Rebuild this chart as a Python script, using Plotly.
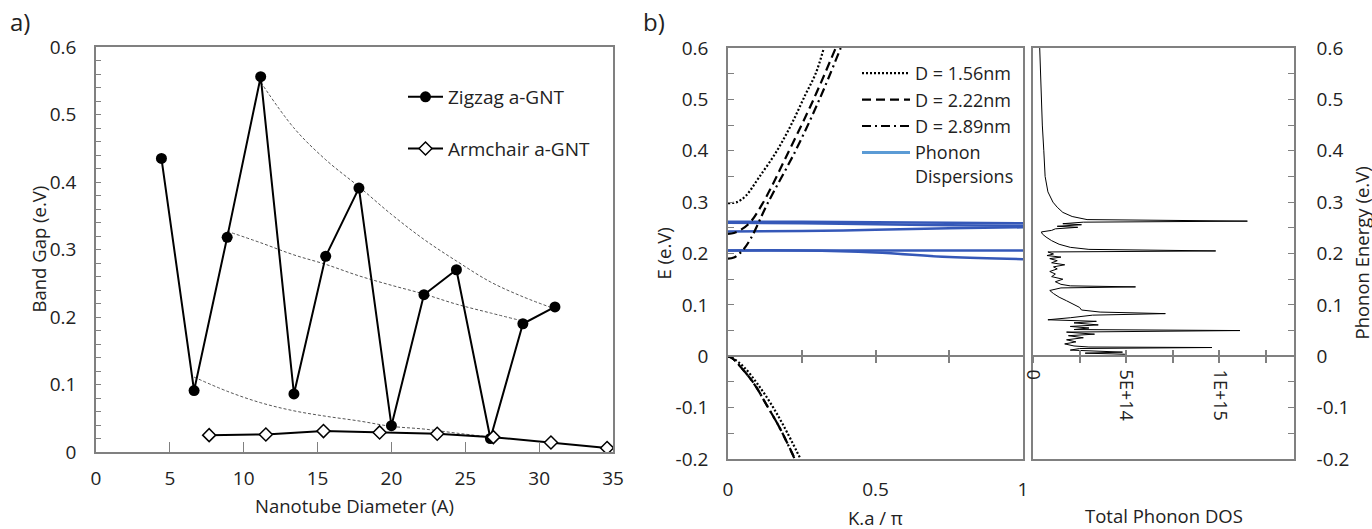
import plotly.graph_objects as go

# ---------------- Panel a data ----------------
zig_x = [4.43, 6.64, 8.88, 11.15, 13.4, 15.55, 17.8, 20.0, 22.2, 24.4, 26.7, 28.9, 31.07]
zig_y = [0.435, 0.091, 0.318, 0.556, 0.086, 0.290, 0.391, 0.039, 0.233, 0.270, 0.020, 0.190, 0.215]
arm_x = [7.66, 11.5, 15.4, 19.2, 23.1, 26.9, 30.8, 34.6]
arm_y = [0.025, 0.026, 0.031, 0.029, 0.027, 0.022, 0.014, 0.006]

guide_up_x = [11.15, 13.4, 15.55, 17.8, 20.0, 22.2, 24.4, 26.7, 28.9, 31.07]
guide_up_y = [0.548, 0.48, 0.433, 0.393, 0.352, 0.315, 0.283, 0.252, 0.23, 0.212]
guide_mid_x = [8.88, 11.15, 13.4, 15.55, 17.8, 20.0, 22.2, 24.4, 26.7, 28.9]
guide_mid_y = [0.327, 0.31, 0.292, 0.278, 0.261, 0.247, 0.234, 0.219, 0.206, 0.194]
guide_low_x = [6.64, 8.88, 11.15, 13.4, 15.55, 17.8, 20.0, 22.2, 24.4, 26.7]
guide_low_y = [0.111, 0.09, 0.073, 0.061, 0.053, 0.046, 0.038, 0.034, 0.028, 0.022]

# ---------------- Panel b (left) data ----------------
k_c156 = [0, 0.03, 0.06, 0.105, 0.166, 0.218, 0.263, 0.297, 0.325]
e_c156 = [0.298, 0.300, 0.312, 0.348, 0.40, 0.455, 0.51, 0.55, 0.60]
k_c222 = [0, 0.02, 0.04, 0.071, 0.116, 0.207, 0.29, 0.365]
e_c222 = [0.238, 0.240, 0.245, 0.258, 0.296, 0.40, 0.50, 0.60]
k_c289 = [0, 0.02, 0.048, 0.077, 0.133, 0.229, 0.31, 0.382]
e_c289 = [0.19, 0.192, 0.205, 0.229, 0.296, 0.40, 0.50, 0.60]

k_v156 = [0, 0.017, 0.054, 0.099, 0.145, 0.19, 0.246]
e_v156 = [0, -0.004, -0.021, -0.053, -0.092, -0.137, -0.20]
k_v222 = [0, 0.015, 0.043, 0.088, 0.128, 0.173, 0.223]
e_v222 = [0, -0.004, -0.021, -0.053, -0.092, -0.137, -0.195]
k_v289 = [0, 0.015, 0.045, 0.09, 0.131, 0.176, 0.226]
e_v289 = [0, -0.004, -0.022, -0.055, -0.095, -0.14, -0.2]

k_ph = [0, 0.25, 0.5, 0.75, 1.0]
ph_bands = [
    [0.262, 0.262, 0.261, 0.260, 0.259],
    [0.260, 0.259, 0.257, 0.255, 0.254],
    [0.243, 0.244, 0.246, 0.249, 0.251],
    [0.206, 0.206, 0.206, 0.206, 0.206],
    [0.206, 0.206, 0.202, 0.193, 0.189],
]

# ---------------- Panel b (right) data: phonon DOS ----------------
dos_energy = [0.600, 0.55, 0.50, 0.45, 0.40, 0.35, 0.32, 0.30, 0.29, 0.28, 0.272, 0.266,
              0.263, 0.261, 0.258, 0.256, 0.253, 0.251, 0.248, 0.245, 0.242, 0.238, 0.232,
              0.225, 0.218, 0.212, 0.208, 0.205, 0.203, 0.199, 0.196, 0.193, 0.190, 0.186,
              0.182, 0.178, 0.174, 0.170, 0.165, 0.160, 0.155, 0.150, 0.145, 0.140, 0.137,
              0.135, 0.133, 0.128, 0.122, 0.115, 0.108, 0.100, 0.095, 0.090, 0.086, 0.083,
              0.080, 0.075, 0.071, 0.068, 0.065, 0.061, 0.058, 0.055, 0.052, 0.050, 0.047,
              0.043, 0.040, 0.036, 0.032, 0.028, 0.024, 0.020, 0.018, 0.017, 0.015, 0.012,
              0.010, 0.008, 0.006, 0.004, 0.002, 0.0]
dos_1e14 = [0.36, 0.40, 0.45, 0.50, 0.58, 0.65, 0.80, 1.07, 1.3, 1.6, 2.1, 2.9,
            11.5, 2.7, 1.6, 2.6, 1.3, 2.4, 1.2, 1.0, 0.45, 0.5, 0.7,
            1.0, 1.4, 2.0, 3.0, 9.8, 0.8, 1.1, 0.75, 1.5, 0.9, 1.3,
            1.0, 1.7, 1.1, 1.3, 0.9, 1.2, 1.0, 1.6, 1.2, 1.5, 2.0,
            5.5, 1.5, 0.9, 1.1, 1.4, 1.8, 2.2, 2.5, 2.6, 3.6, 7.1,
            3.2, 2.0, 0.8, 3.4, 2.2, 3.5, 2.0, 3.0, 2.2, 11.1, 1.8,
            3.3, 1.9, 2.7, 1.8, 2.3, 1.7, 2.2, 3.0, 9.6, 2.5, 2.0,
            4.2, 4.8, 2.8, 4.9, 5.0, 2.4]
dos_vals = [v * 1e14 for v in dos_1e14]

dos_tickvals = [0, 2.5e14, 5e14, 7.5e14, 1e15, 1.25e15]
dos_ticktext = ["0", "", "5E+14", "", "1E+15", ""]

e_tickvals = [-0.2, -0.1, 0, 0.1, 0.2, 0.3, 0.4, 0.5, 0.6]
e_ticktext = ["-0.2", "-0.1", "0", "0.1", "0.2", "0.3", "0.4", "0.5", "0.6"]

# ---------------- Layout geometry ----------------
W, H = 1372, 529
FONT = "Open Sans"
TXT = "#222222"
AX = "#808080"

def fx(px):
    return px / W

def fy(py):
    return 1 - py / H

a_dom_x = [fx(96), fx(613)]
a_dom_y = [fy(452), fy(47)]
bl_dom_x = [fx(728), fx(1023)]
br_dom_x = [fx(1033), fx(1294)]
b_dom_y = [fy(459), fy(48)]
b_range = [-0.2, 0.6]
zero_pos = b_dom_y[0] + (0 - b_range[0]) / (b_range[1] - b_range[0]) * (b_dom_y[1] - b_dom_y[0])

fig = go.Figure()

# ---- panel a ----
for gx, gy in [(guide_up_x, guide_up_y), (guide_mid_x, guide_mid_y), (guide_low_x, guide_low_y)]:
    fig.add_trace(go.Scatter(x=gx, y=gy, mode="lines", line=dict(color="#555555", width=1, dash="3px,2px", shape="spline"),
                             showlegend=False, hoverinfo="skip", xaxis="x", yaxis="y"))
fig.add_trace(go.Scatter(x=zig_x, y=zig_y, mode="lines+markers", name="Zigzag a-GNT",
                         line=dict(color="black", width=2),
                         marker=dict(symbol="circle", size=11, color="black"),
                         xaxis="x", yaxis="y", legend="legend", legendgroup="zz"))
fig.add_trace(go.Scatter(x=arm_x, y=arm_y, mode="lines+markers", name="Armchair a-GNT",
                         line=dict(color="black", width=2),
                         marker=dict(symbol="diamond", size=10, color="white", line=dict(color="black", width=1.5)),
                         xaxis="x", yaxis="y", legend="legend", legendgroup="ac"))

# ---- panel b left ----
PH_COL = "#3558B8"
for band in ph_bands:
    fig.add_trace(go.Scatter(x=k_ph, y=band, mode="lines", line=dict(color=PH_COL, width=2.5, shape="spline"),
                             showlegend=False, hoverinfo="skip", xaxis="x2", yaxis="y2"))

styles = [("D = 1.56nm", "2px,2px", k_c156, e_c156, k_v156, e_v156),
          ("D = 2.22nm", "9px,5px", k_c222, e_c222, k_v222, e_v222),
          ("D = 2.89nm", "9px,4px,2px,4px", k_c289, e_c289, k_v289, e_v289)]
for name, dash, kc, ec, kv, ev in styles:
    fig.add_trace(go.Scatter(x=kc, y=ec, mode="lines", name=name,
                             line=dict(color="black", width=2.2, dash=dash, shape="spline"),
                             xaxis="x2", yaxis="y2", legend="legend2"))
    fig.add_trace(go.Scatter(x=kv, y=ev, mode="lines", showlegend=False,
                             line=dict(color="black", width=2.2, dash=dash, shape="spline"),
                             xaxis="x2", yaxis="y2", hoverinfo="skip"))
fig.add_trace(go.Scatter(x=[None], y=[None], mode="lines", name="Phonon<br>Dispersions",
                         line=dict(color="#5B9BD5", width=3), xaxis="x2", yaxis="y2", legend="legend2"))

# ---- panel b right ----
fig.add_trace(go.Scatter(x=dos_vals, y=dos_energy, mode="lines", line=dict(color="black", width=1),
                         showlegend=False, xaxis="x5", yaxis="y5"))

# dummy traces to register overlay axes
for xa, ya in [("x3", "y2"), ("x4", "y2"), ("x6", "y5"), ("x7", "y5")]:
    fig.add_trace(go.Scatter(x=[], y=[], xaxis=xa, yaxis=ya, showlegend=False, hoverinfo="skip"))

TICK = 19
tickfont = dict(family=FONT, size=TICK, color=TXT)
TITLE = 18.5

def ann(text, x, y, size=TITLE, angle=0):
    return dict(text=text, x=x, y=y, xref="paper", yref="paper", xanchor="center", yanchor="middle",
                textangle=angle, showarrow=False, font=dict(family=FONT, size=size, color=TXT))

minor_e = dict(tickmode="linear", tick0=0, dtick=0.05, ticks="inside", ticklen=6, tickcolor=AX)

fig.update_layout(
    width=W, height=H, margin=dict(l=0, r=0, t=0, b=0, pad=0, autoexpand=False),
    paper_bgcolor="white", plot_bgcolor="white",
    font=dict(family=FONT, color=TXT),
    xaxis=dict(domain=a_dom_x, range=[0, 35], anchor="y", tickvals=[0, 5, 10, 15, 20, 25, 30, 35],
               ticks="inside", ticklen=10, tickcolor=AX, showline=True, linecolor=AX, linewidth=1.5,
               mirror=True, showgrid=False, zeroline=False, tickfont=tickfont, ticklabelstandoff=8,
               automargin=False),
    yaxis=dict(domain=a_dom_y, range=[0, 0.6], anchor="x", dtick=0.1, tickformat=".1~f",
               ticks="inside", ticklen=5, tickcolor=AX,
               minor=dict(dtick=0.02, ticks="inside", ticklen=5, tickcolor=AX),
               showline=True, linecolor=AX, linewidth=1.5, mirror=True, showgrid=False, zeroline=False,
               tickfont=tickfont, ticklabelstandoff=14, automargin=False),
    xaxis2=dict(domain=bl_dom_x, range=[0, 1], anchor="y2", tickvals=[0, 0.5, 1], ticks="",
                showline=True, linecolor=AX, linewidth=1.5, mirror=True, showgrid=False, zeroline=False,
                tickfont=tickfont, ticklabelstandoff=12, automargin=False),
    yaxis2=dict(domain=b_dom_y, range=b_range, anchor="x2", tickvals=e_tickvals, ticktext=e_ticktext,
                ticks="inside", ticklen=6, tickcolor=AX, minor=minor_e,
                showline=True, linecolor=AX, linewidth=1.5, mirror=True, showgrid=False, zeroline=False,
                tickfont=tickfont, ticklabelstandoff=14, automargin=False),
    xaxis3=dict(overlaying="x2", anchor="free", position=zero_pos, range=[0, 1], tickvals=[0.25, 0.5, 0.75],
                ticks="outside", ticklen=6, tickcolor=AX, tickwidth=1.5, showticklabels=False,
                showline=True, linecolor=AX, linewidth=1.5, showgrid=False, zeroline=False, automargin=False),
    xaxis4=dict(overlaying="x2", anchor="free", position=zero_pos, range=[0, 1], tickvals=[0.25, 0.5, 0.75],
                ticks="inside", ticklen=6, tickcolor=AX, tickwidth=1.5, showticklabels=False,
                showline=False, showgrid=False, zeroline=False, automargin=False),
    xaxis5=dict(domain=br_dom_x, range=[0, 1.4e15], anchor="y5", showticklabels=False, ticks="",
                showline=True, linecolor=AX, linewidth=1.5, mirror=True, showgrid=False, zeroline=False,
                automargin=False),
    yaxis5=dict(domain=b_dom_y, range=b_range, anchor="x5", side="right", tickvals=e_tickvals,
                ticktext=e_ticktext, ticks="inside", ticklen=6, tickcolor=AX, minor=minor_e,
                showline=True, linecolor=AX, linewidth=1.5, mirror=True, showgrid=False, zeroline=False,
                tickfont=tickfont, ticklabelstandoff=17, automargin=False),
    xaxis6=dict(overlaying="x5", anchor="free", position=zero_pos, range=[0, 1.4e15],
                tickvals=dos_tickvals, ticktext=dos_ticktext, tickangle=90,
                ticks="outside", ticklen=6, tickcolor=AX, tickwidth=1.5,
                showline=True, linecolor=AX, linewidth=1.5, showgrid=False, zeroline=False,
                tickfont=dict(family=FONT, size=18, color=TXT), ticklabelstandoff=3, automargin=False),
    xaxis7=dict(overlaying="x5", anchor="free", position=zero_pos, range=[0, 1.4e15],
                tickvals=dos_tickvals, ticks="inside", ticklen=6, tickcolor=AX, tickwidth=1.5,
                showticklabels=False, showline=False, showgrid=False, zeroline=False, automargin=False),
    legend=dict(x=fx(403), y=fy(78), xanchor="left", yanchor="top", bgcolor="rgba(0,0,0,0)",
                font=dict(family=FONT, size=19, color=TXT), tracegroupgap=24, traceorder="grouped",
                itemwidth=35),
    legend2=dict(x=fx(857), y=fy(55), xanchor="left", yanchor="top", bgcolor="rgba(0,0,0,0)",
                 font=dict(family=FONT, size=18, color=TXT), valign="top", itemwidth=48, tracegroupgap=0),
    annotations=[
        dict(text="a)", x=fx(8), y=fy(22), xref="paper", yref="paper", xanchor="left", yanchor="middle",
             showarrow=False, font=dict(family=FONT, size=24, color=TXT)),
        dict(text="b)", x=fx(641), y=fy(22), xref="paper", yref="paper", xanchor="left", yanchor="middle",
             showarrow=False, font=dict(family=FONT, size=24, color=TXT)),
        ann("Nanotube Diameter (A)", (a_dom_x[0] + a_dom_x[1]) / 2, fy(505)),
        ann("Band Gap (e.V)", fx(38), (a_dom_y[0] + a_dom_y[1]) / 2, angle=-90),
        ann("K.a / π", (bl_dom_x[0] + bl_dom_x[1]) / 2, fy(517)),
        ann("E (e.V)", fx(663), (b_dom_y[0] + b_dom_y[1]) / 2, angle=-90),
        ann("Total Phonon DOS", (br_dom_x[0] + br_dom_x[1]) / 2, fy(515)),
        ann("Phonon Energy (e.V)", fx(1361), (b_dom_y[0] + b_dom_y[1]) / 2, angle=-90),
    ],
)

fig.write_html("out.html")
